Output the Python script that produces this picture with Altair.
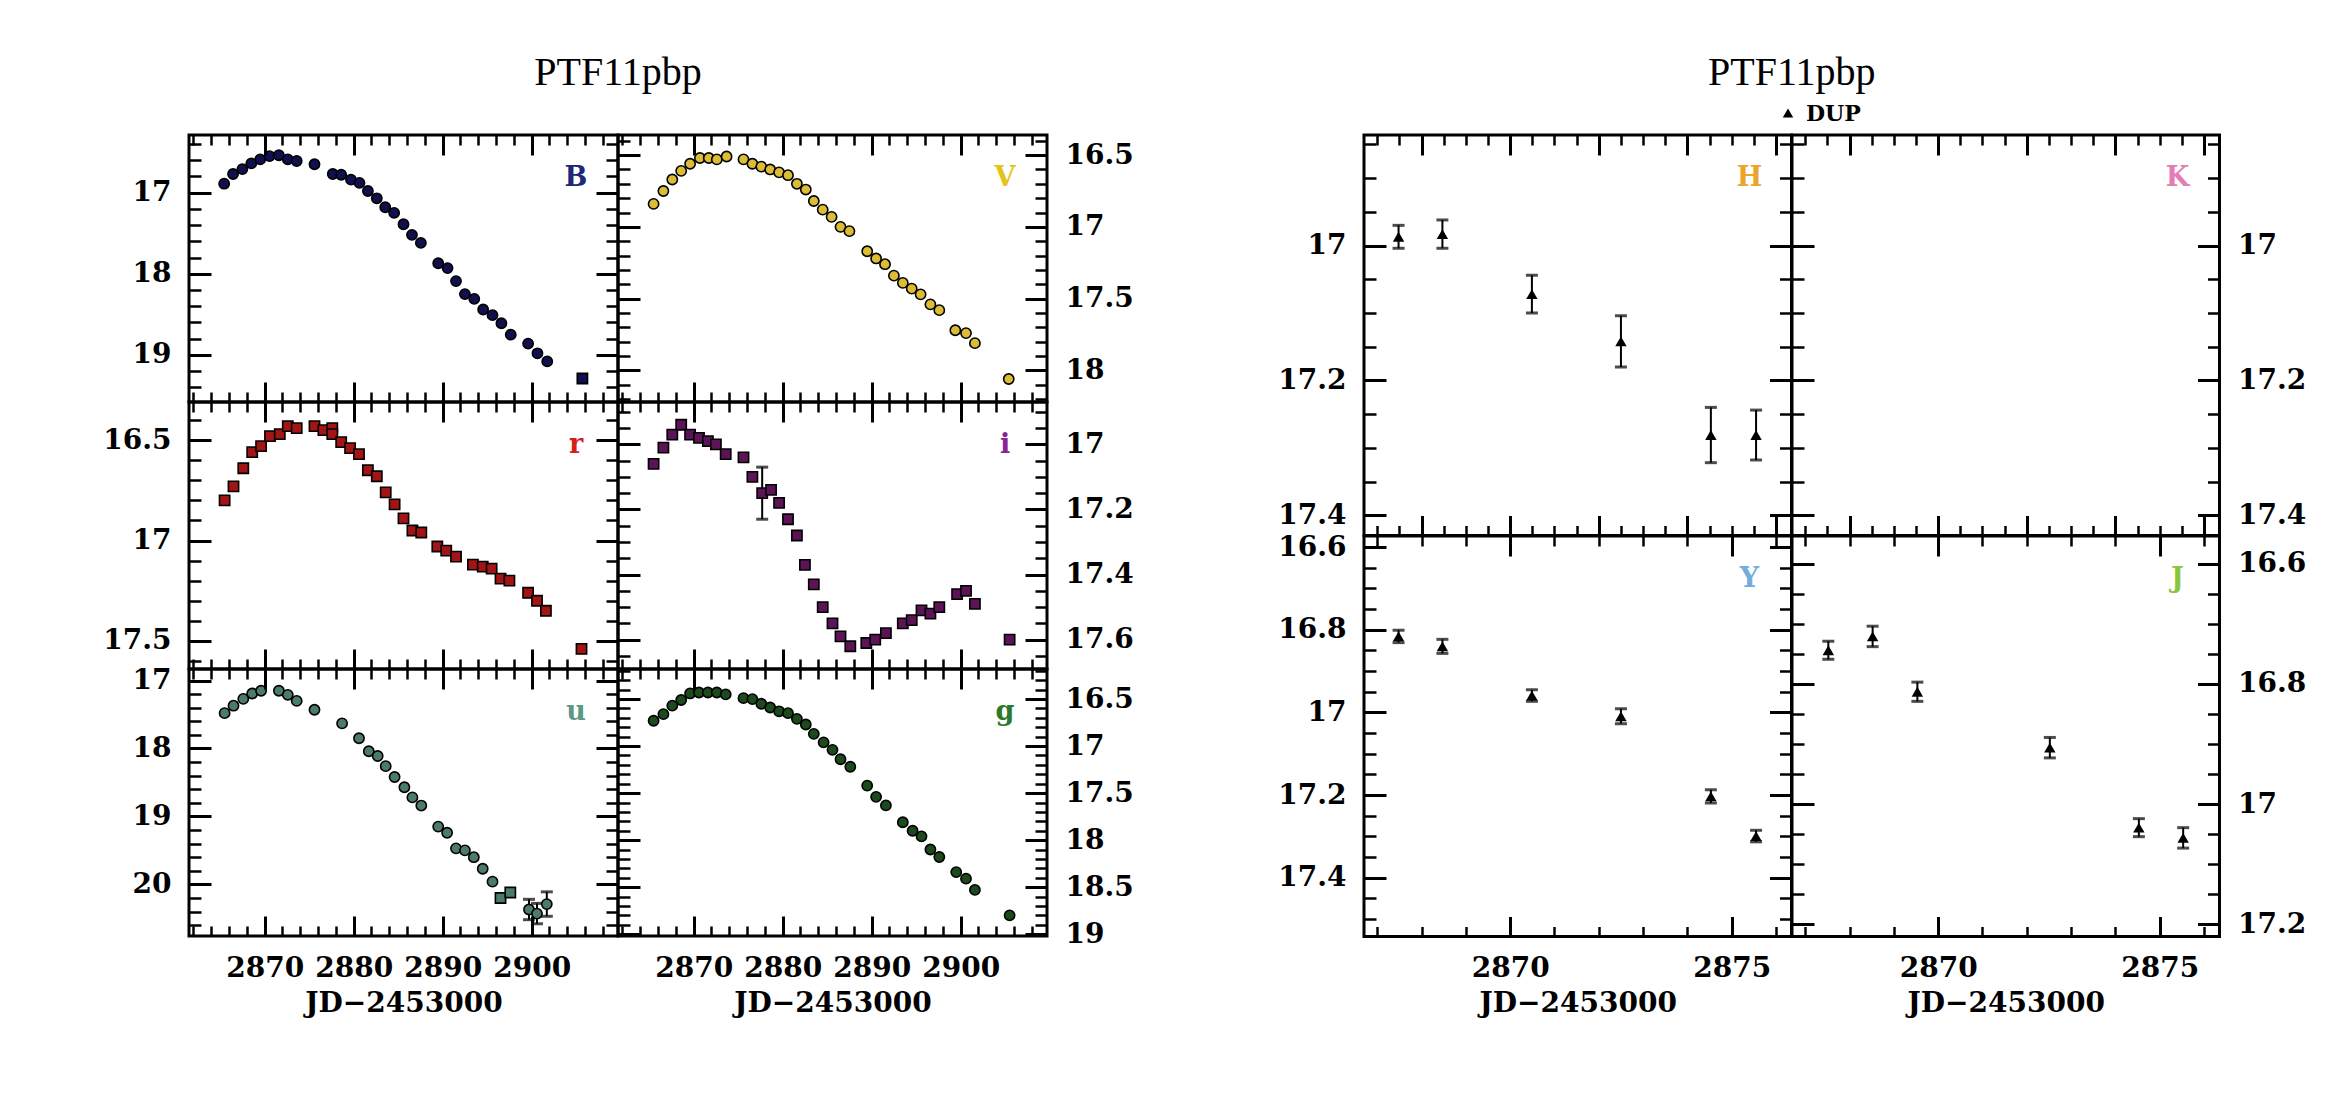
import altair as alt
import pandas as pd

# ------------------------------------------------------------------ data
B_day = [2865.45, 2866.45, 2867.5, 2868.5, 2869.5, 2870.55, 2871.6, 2872.6, 2873.6, 2875.6, 2877.65, 2878.6,
         2879.7, 2880.65, 2881.6, 2882.6, 2883.55, 2884.55, 2885.6, 2886.55, 2887.55, 2889.5, 2890.55, 2891.5,
         2892.5, 2893.55, 2894.55, 2895.6, 2896.6, 2897.65, 2899.6, 2900.65, 2901.75, 2905.7]
B_mag = [16.89, 16.77, 16.71, 16.64, 16.59, 16.55, 16.54, 16.59, 16.61, 16.65, 16.77, 16.78,
         16.84, 16.88, 16.98, 17.07, 17.18, 17.25, 17.39, 17.52, 17.62, 17.87, 17.93, 18.09,
         18.25, 18.31, 18.44, 18.51, 18.61, 18.75, 18.86, 18.98, 19.08, 19.29]
B_square = [2905.7]

V_day = [2865.5, 2866.6, 2867.6, 2868.6, 2869.6, 2870.7, 2871.7, 2872.6, 2873.7, 2875.6, 2876.6, 2877.6,
         2878.6, 2879.6, 2880.6, 2881.6, 2882.6, 2883.5, 2884.5, 2885.5, 2886.5, 2887.5, 2889.5, 2890.5,
         2891.5, 2892.5, 2893.5, 2894.5, 2895.5, 2896.6, 2897.6, 2899.4, 2900.6, 2901.6, 2905.4]
V_mag = [16.84, 16.75, 16.67, 16.61, 16.56, 16.52, 16.52, 16.53, 16.51, 16.53, 16.56, 16.58,
         16.60, 16.62, 16.64, 16.70, 16.74, 16.82, 16.88, 16.93, 17.00, 17.03, 17.17, 17.22,
         17.26, 17.34, 17.39, 17.43, 17.47, 17.54, 17.58, 17.72, 17.74, 17.81, 18.06]

r_day = [2865.5, 2866.5, 2867.6, 2868.6, 2869.6, 2870.6, 2871.7, 2872.6, 2873.6, 2875.6, 2876.6, 2877.6,
         2877.6, 2878.6, 2879.6, 2880.6, 2881.6, 2882.6, 2883.6, 2884.6, 2885.6, 2886.6, 2887.6, 2889.4,
         2890.4, 2891.5, 2893.4, 2894.5, 2895.5, 2896.5, 2897.5, 2899.6, 2900.6, 2901.6, 2905.6]
r_mag = [16.80, 16.73, 16.64, 16.56, 16.53, 16.48, 16.47, 16.43, 16.44, 16.43, 16.45, 16.44,
         16.47, 16.51, 16.54, 16.57, 16.65, 16.68, 16.76, 16.82, 16.89, 16.95, 16.96, 17.03,
         17.05, 17.08, 17.12, 17.13, 17.14, 17.19, 17.20, 17.26, 17.30, 17.35, 17.54]

i_day = [2865.5, 2866.6, 2867.6, 2868.6, 2869.6, 2870.6, 2871.6, 2872.5, 2873.6, 2875.6, 2876.6, 2877.7,
         2878.7, 2879.6, 2880.6, 2881.6, 2882.5, 2883.5, 2884.5, 2885.6, 2886.5, 2887.6, 2889.4, 2890.4,
         2891.6, 2893.5, 2894.5, 2895.6, 2896.6, 2897.6, 2899.6, 2900.6, 2901.6, 2905.5]
i_mag = [17.06, 17.01, 16.97, 16.94, 16.97, 16.98, 16.99, 17.00, 17.03, 17.04, 17.10, 17.15,
         17.14, 17.18, 17.23, 17.28, 17.37, 17.43, 17.50, 17.55, 17.59, 17.62, 17.61, 17.60,
         17.58, 17.55, 17.54, 17.51, 17.52, 17.50, 17.46, 17.45, 17.49, 17.60]
i_err = [0, 0, 0, 0, 0, 0, 0, 0, 0, 0, 0, 0.08,
         0, 0, 0, 0, 0, 0, 0, 0, 0, 0, 0, 0,
         0, 0, 0, 0, 0, 0, 0, 0, 0, 0]

u_day = [2865.5, 2866.5, 2867.6, 2868.6, 2869.6, 2871.6, 2872.6, 2873.6, 2875.6, 2878.7, 2880.6, 2881.7,
         2882.7, 2883.6, 2884.6, 2885.7, 2886.6, 2887.6, 2889.5, 2890.5, 2891.5, 2892.5, 2893.5, 2894.5,
         2895.6, 2896.5, 2897.6, 2899.7, 2900.6, 2901.7]
u_mag = [17.48, 17.37, 17.27, 17.19, 17.15, 17.15, 17.21, 17.30, 17.43, 17.63, 17.85, 18.04,
         18.11, 18.26, 18.42, 18.57, 18.72, 18.84, 19.15, 19.24, 19.47, 19.50, 19.60, 19.77,
         19.96, 20.20, 20.12, 20.37, 20.43, 20.29]
u_err = [0, 0, 0, 0, 0, 0, 0, 0, 0, 0, 0, 0,
         0, 0, 0, 0, 0, 0, 0, 0, 0, 0, 0, 0,
         0, 0, 0, 0.15, 0.15, 0.18]
u_square = [2896.5, 2897.6]

g_day = [2865.5, 2866.6, 2867.6, 2868.6, 2869.6, 2870.6, 2871.6, 2872.6, 2873.6, 2875.6, 2876.6, 2877.6,
         2878.6, 2879.6, 2880.6, 2881.6, 2882.6, 2883.5, 2884.6, 2885.6, 2886.5, 2887.6, 2889.5, 2890.5,
         2891.6, 2893.5, 2894.6, 2895.6, 2896.6, 2897.6, 2899.5, 2900.6, 2901.6, 2905.5]
g_mag = [16.73, 16.66, 16.57, 16.51, 16.44, 16.43, 16.43, 16.43, 16.45, 16.49, 16.50, 16.55,
         16.59, 16.63, 16.65, 16.71, 16.77, 16.87, 16.96, 17.04, 17.14, 17.22, 17.42, 17.54,
         17.63, 17.81, 17.90, 17.96, 18.10, 18.18, 18.34, 18.41, 18.53, 18.80]

H_day = [2867.48, 2868.47, 2870.49, 2872.50, 2874.53, 2875.55]
H_mag = [16.987, 16.983, 17.072, 17.142, 17.281, 17.281]
H_err = [0.017, 0.021, 0.028, 0.038, 0.041, 0.037]

Y_day = [2867.48, 2868.47, 2870.49, 2872.50, 2874.53, 2875.55]
Y_mag = [16.816, 16.840, 16.959, 17.009, 17.203, 17.299]
Y_err = [0.015, 0.017, 0.014, 0.018, 0.016, 0.014]

J_day = [2867.52, 2868.52, 2869.53, 2872.52, 2874.53, 2875.53]
J_mag = [16.744, 16.721, 16.813, 16.906, 17.039, 17.056]
J_err = [0.015, 0.017, 0.016, 0.017, 0.015, 0.017]

TITLE = "PTF11pbp"
XTITLE = "JD\u22122453000"
LEGEND = "DUP"

# ------------------------------------------------------------------ style
FONT = "DejaVu Serif"
LFS = 28
EXT = 95


def ticks_between(lo, hi, step, skip):
    n = int(round((hi - lo) / step))
    vals = [round(lo + k * step, 4) for k in range(n + 1)]
    return [v for v in vals if all(abs(v - s) > 1e-6 for s in skip)]


def make_df(day, mag, err=None, square=None, default_shape="circle"):
    df = pd.DataFrame({"day": day, "mag": mag})
    df["err"] = err if err is not None else 0.0
    df["lo"] = df["mag"] - df["err"]
    df["hi"] = df["mag"] + df["err"]
    sq = square or []
    other = "square" if default_shape == "circle" else "circle"
    df["shp"] = [other if any(abs(d - s) < 1e-6 for s in sq) else default_shape for d in day]
    return df


def frame_layers(df, xs, ys, w, h, xmaj, xmin, ymaj, ymin):
    out = []
    for xo, yo, xv, yv, xsz, ysz, tw in [
        ("bottom", "right", xmaj, ymaj, 20, 22, 3),
        ("bottom", "right", xmin, ymin, 10, 12, 2.5),
        ("top", "left", xmaj, ymaj, 20, 22, 3),
        ("top", "left", xmin, ymin, 10, 12, 2.5),
    ]:
        ax = alt.Axis(orient=xo, offset=-h, values=xv, labels=False, domain=False, grid=False,
                      ticks=True, tickSize=xsz, tickWidth=tw, tickColor="black", title=None, zindex=3)
        ay = alt.Axis(orient=yo, offset=-w, values=yv, labels=False, domain=False, grid=False,
                      ticks=True, tickSize=ysz, tickWidth=tw, tickColor="black", title=None, zindex=3)
        out.append(alt.Chart(df).mark_point(opacity=0).encode(
            x=alt.X("day:Q", scale=xs, axis=ax), y=alt.Y("mag:Q", scale=ys, axis=ay)))
    return out


def panel(df, w, h, xdom, ydom, xmaj, xmin, ymaj, ymin, ylab, side, xlab, letter, lcolor,
          pcolor=None, nir=False, show=True, top="none"):
    xs = alt.Scale(domain=xdom, nice=False, zero=False)
    ys = alt.Scale(domain=ydom, nice=False, zero=False, reverse=True)
    ya = alt.Axis(orient=side, values=ylab, format="~g", labels=True, ticks=False, tickSize=0,
                  domain=False, grid=False, labelFont=FONT, labelFontSize=LFS, labelFontWeight="bold",
                  labelColor="black", labelPadding=18, labelOverlap=False, labelFlush=False,
                  minExtent=EXT, maxExtent=EXT, title=None)
    if xlab:
        xa = alt.Axis(orient="bottom", values=xlab, format="d", labels=True, ticks=False, tickSize=0,
                      domain=False, grid=False, labelFont=FONT, labelFontSize=LFS, labelFontWeight="bold",
                      labelColor="black", labelPadding=18, labelOverlap=False, labelFlush=False,
                      title=XTITLE, titleFont=FONT, titleFontSize=LFS, titleFontWeight="bold",
                      titleColor="black", titlePadding=7)
    else:
        xa = None
    layers = []
    ed = df[df["err"] > 0]
    if show and len(ed):
        layers.append(alt.Chart(ed).mark_rule(color="black", strokeWidth=2).encode(
            x=alt.X("day:Q", scale=xs, axis=None), y=alt.Y("lo:Q", scale=ys, axis=None), y2="hi:Q"))
        caps = pd.concat([ed.assign(cap=ed["lo"]), ed.assign(cap=ed["hi"])])
        layers.append(alt.Chart(caps).mark_tick(orient="horizontal", size=12, thickness=3, color="black").encode(
            x=alt.X("day:Q", scale=xs, axis=None), y=alt.Y("cap:Q", scale=ys, axis=None)))
    if nir:
        pts = alt.Chart(df).mark_point(shape="triangle-up", filled=True, color="black", size=130,
                                       opacity=1 if show else 0)
        enc = dict(x=alt.X("day:Q", scale=xs, axis=xa), y=alt.Y("mag:Q", scale=ys, axis=ya))
    else:
        pts = alt.Chart(df).mark_point(filled=True, fill=pcolor, stroke="black", strokeWidth=1.6,
                                       size=105, opacity=1, fillOpacity=1)
        enc = dict(x=alt.X("day:Q", scale=xs, axis=xa), y=alt.Y("mag:Q", scale=ys, axis=ya),
                   shape=alt.Shape("shp:N", scale=None))
    layers.append(pts.encode(**enc))
    layers += frame_layers(df, xs, ys, w, h, xmaj, xmin, ymaj, ymin)
    tdf = pd.DataFrame({"t": [letter]})
    layers.append(alt.Chart(tdf).mark_text(font=FONT, fontSize=27, fontWeight="bold", color=lcolor,
                                           align="center", baseline="alphabetic").encode(
        text="t:N", x=alt.value(w - 42), y=alt.value(51)))
    if top != "none":
        ldf = pd.DataFrame({"t": [LEGEND]})
        op = 1 if top == "legend" else 0
        layers.append(alt.Chart(ldf).mark_text(font=FONT, fontSize=22, fontWeight="bold", color="black",
                                               align="left", baseline="middle", opacity=op).encode(
            text="t:N", x=alt.value(14), y=alt.value(-21)))
        if top == "legend":
            layers.append(alt.Chart(ldf).mark_point(shape="triangle-up", filled=True, color="black",
                                                    size=110, opacity=1).encode(
                x=alt.value(-4), y=alt.value(-22)))
    return alt.layer(*layers).resolve_axis(x="independent", y="independent").properties(width=w, height=h)


# ------------------------------------------------------------------ left group
LW, LH = 429, 267
OX = [2861.5, 2909.7]
OXMAJ = [2870, 2880, 2890, 2900]
OXMIN = ticks_between(2862, 2908, 2, OXMAJ)

B_df = make_df(B_day, B_mag, square=B_square)
V_df = make_df(V_day, V_mag)
r_df = make_df(r_day, r_mag, default_shape="square")
i_df = make_df(i_day, i_mag, err=i_err, default_shape="square")
u_df = make_df(u_day, u_mag, err=u_err, square=u_square)
g_df = make_df(g_day, g_mag)

pB = panel(B_df, LW, LH, OX, [16.29, 19.58], OXMAJ, OXMIN, [17, 18, 19],
           ticks_between(16.4, 19.4, 0.2, [17, 18, 19]), [17, 18, 19], "left", None,
           "B", "#1c2878", pcolor="#10104e", top="ghost")
pV = panel(V_df, LW, LH, OX, [16.36, 18.22], OXMAJ, OXMIN, [16.5, 17, 17.5, 18],
           ticks_between(16.4, 18.2, 0.1, [16.5, 17, 17.5, 18]), [16.5, 17, 17.5, 18], "right", None,
           "V", "#e6c21c", pcolor="#dcbc34", top="ghost")
pr = panel(r_df, LW, LH, OX, [16.31, 17.64], OXMAJ, OXMIN, [16.5, 17, 17.5],
           ticks_between(16.4, 17.6, 0.1, [16.5, 17, 17.5]), [16.5, 17, 17.5], "left", None,
           "r", "#d41f1f", pcolor="#a31414")
pi = panel(i_df, LW, LH, OX, [16.87, 17.69], OXMAJ, OXMIN, [17, 17.2, 17.4, 17.6],
           ticks_between(16.9, 17.65, 0.05, [17, 17.2, 17.4, 17.6]), [17, 17.2, 17.4, 17.6], "right", None,
           "i", "#8a2394", pcolor="#5c1456")
pu = panel(u_df, LW, LH, OX, [16.83, 20.76], OXMAJ, OXMIN, [17, 18, 19, 20],
           ticks_between(17.2, 20.6, 0.2, [17, 18, 19, 20]), [17, 18, 19, 20], "left", OXMAJ,
           "u", "#5e9786", pcolor="#4c7b6c")
pg = panel(g_df, LW, LH, OX, [16.18, 19.02], OXMAJ, OXMIN, [16.5, 17, 17.5, 18, 18.5, 19],
           ticks_between(16.2, 18.9, 0.1, [16.5, 17, 17.5, 18, 18.5, 19]), [16.5, 17, 17.5, 18, 18.5, 19],
           "right", OXMAJ, "g", "#2a7a2a", pcolor="#1c4a1c")

title_params = dict(font="Liberation Serif", fontSize=40, fontWeight="normal", color="black",
                    anchor="middle", offset=9)
left = alt.concat(pB, pV, pr, pi, pu, pg, columns=2, spacing=0, bounds="flush",
                  title=alt.TitleParams(TITLE, **title_params))

# ------------------------------------------------------------------ right group
RW, RH = 427.5, 400.5
NX = [2866.7, 2876.35]
HXMAJ = [2868, 2870, 2872, 2874, 2876]
HXMIN = ticks_between(2867, 2876, 0.5, HXMAJ)
YXMAJ = [2870, 2875]
YXMIN = ticks_between(2867, 2876, 1, YXMAJ)

H_df = make_df(H_day, H_mag, err=H_err)
Y_df = make_df(Y_day, Y_mag, err=Y_err)
J_df = make_df(J_day, J_mag, err=J_err)

HK_Y = [16.836, 17.43]
HK_MAJ = [17, 17.2, 17.4]
HK_MIN = ticks_between(16.85, 17.4, 0.05, HK_MAJ)
pH = panel(H_df, RW, RH, NX, HK_Y, HXMAJ, HXMIN, HK_MAJ, HK_MIN, HK_MAJ, "left", None,
           "H", "#eca52a", nir=True, top="ghost")
pK = panel(H_df, RW, RH, NX, HK_Y, HXMAJ, HXMIN, HK_MAJ, HK_MIN, HK_MAJ, "right", None,
           "K", "#e67cb4", nir=True, show=False, top="legend")
Y_MAJ = [16.6, 16.8, 17, 17.2, 17.4]
pY = panel(Y_df, RW, RH, NX, [16.573, 17.542], YXMAJ, YXMIN, Y_MAJ,
           ticks_between(16.6, 17.5, 0.05, Y_MAJ), Y_MAJ, "left", YXMAJ,
           "Y", "#72ade0", nir=True)
J_MAJ = [16.6, 16.8, 17, 17.2]
pJ = panel(J_df, RW, RH, NX, [16.554, 17.22], YXMAJ, YXMIN, J_MAJ,
           ticks_between(16.6, 17.2, 0.05, J_MAJ), J_MAJ, "right", YXMAJ,
           "J", "#8cc43e", nir=True)

right = alt.concat(pH, pK, pY, pJ, columns=2, spacing=0, bounds="flush",
                   title=alt.TitleParams(TITLE, **title_params))

chart = alt.hconcat(left, right, spacing=123).properties(
    padding={"left": 92, "top": 52, "right": 10, "bottom": 10},
    background="white",
).configure_view(stroke="black", strokeWidth=3)

chart.save("out.html", embed_options={"renderer": "svg", "actions": False})
